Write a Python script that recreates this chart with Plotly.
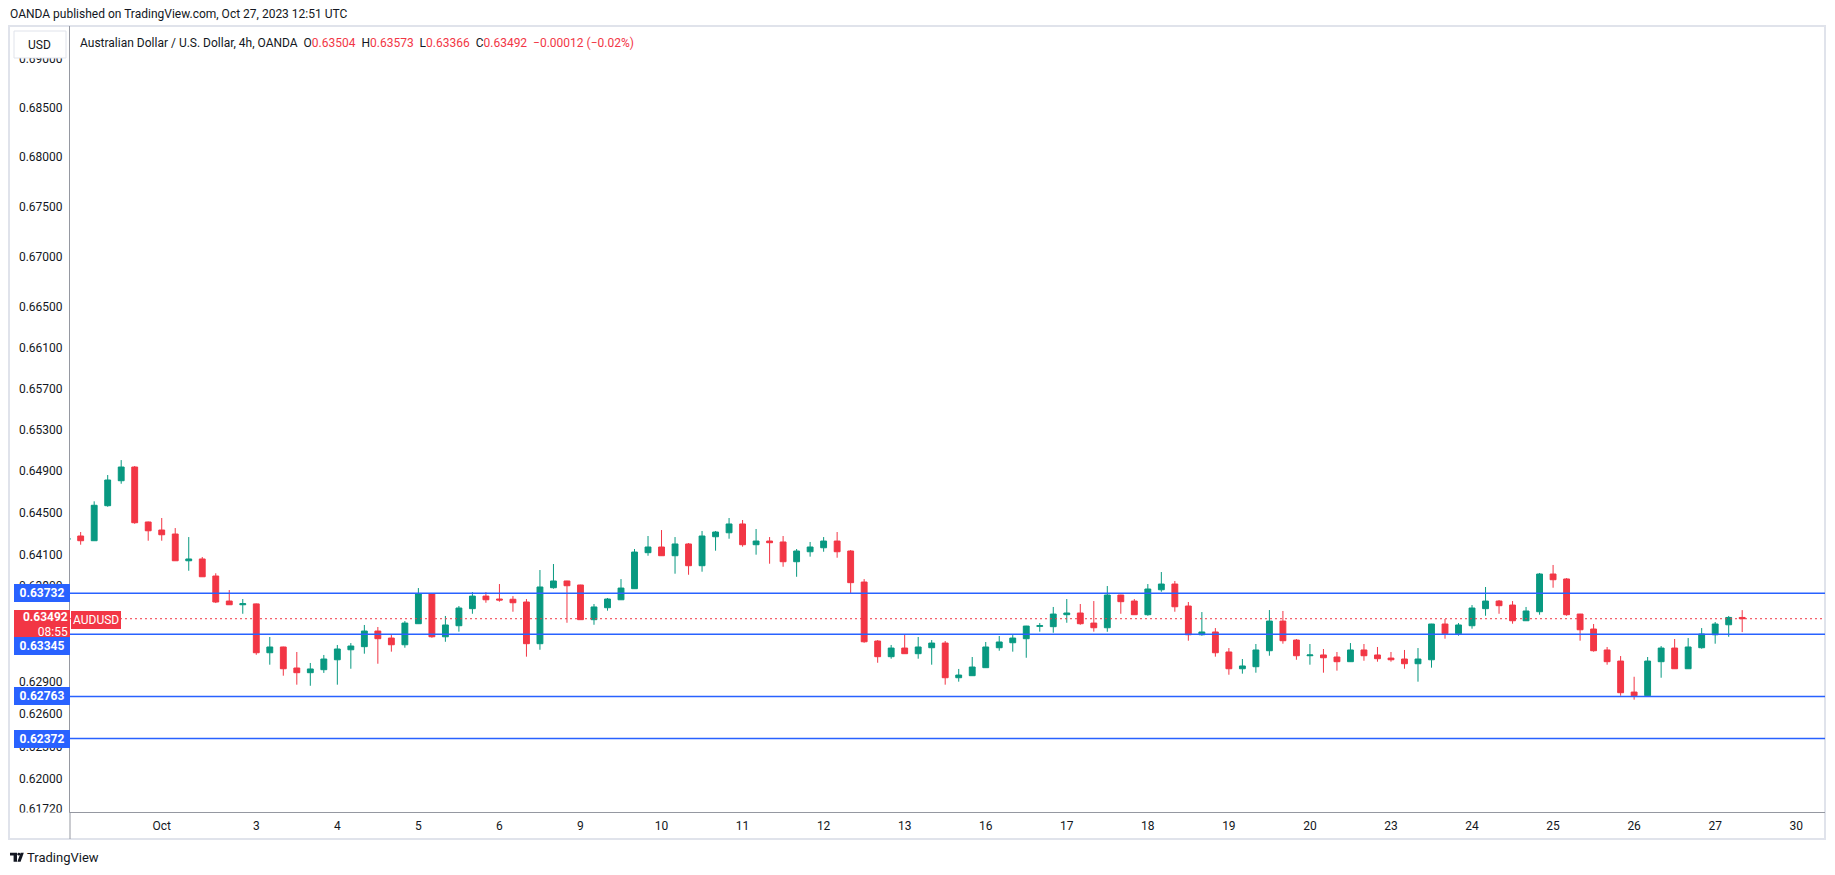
"""AUD/USD 4h candles (OANDA) with horizontal levels, TradingView-style snapshot."""
import numpy as np
import pandas as pd
import plotly.graph_objects as go

# 4h bars from Sep 28 17:00 UTC to Oct 27 09:00 UTC (last bar still forming)
OPEN = [0.64243, 0.64277, 0.64232, 0.64567, 0.64807, 0.64939, 0.64411, 0.64334, 0.64296, 0.64041,
        0.64058, 0.63896, 0.63659, 0.63624, 0.63632, 0.63172, 0.63226, 0.63029, 0.62985, 0.63013,
        0.63106, 0.63200, 0.63229, 0.63376, 0.63310, 0.63247, 0.63445, 0.63728, 0.63322, 0.63426,
        0.63587, 0.63706, 0.63678, 0.63676, 0.63650, 0.63257, 0.63785, 0.63849, 0.63811, 0.63483,
        0.63596, 0.63671, 0.63776, 0.64118, 0.64172, 0.64089, 0.64201, 0.63994, 0.64270, 0.64308,
        0.64392, 0.64194, 0.64229, 0.64220, 0.64032, 0.64127, 0.64165, 0.64229, 0.64134, 0.63839,
        0.63282, 0.63135, 0.63216, 0.63163, 0.63219, 0.63263, 0.62938, 0.62957, 0.63032, 0.63219,
        0.63266, 0.63304, 0.63420, 0.63417, 0.63530, 0.63546, 0.63451, 0.63407, 0.63716, 0.63659,
        0.63530, 0.63766, 0.63820, 0.63612, 0.63341, 0.63367, 0.63179, 0.63022, 0.63041, 0.63191,
        0.63470, 0.63291, 0.63144, 0.63151, 0.63132, 0.63088, 0.63198, 0.63151, 0.63122, 0.63113,
        0.63069, 0.63106, 0.63442, 0.63351, 0.63426, 0.63587, 0.63659, 0.63621, 0.63473, 0.63558,
        0.63915, 0.63868, 0.63536, 0.63395, 0.63198, 0.63094, 0.62804, 0.62770, 0.63088, 0.63216,
        0.63022, 0.63219, 0.63341, 0.63435, 0.63504]
HIGH = [0.64267, 0.64315, 0.64609, 0.64862, 0.65006, 0.64949, 0.64415, 0.64449, 0.64353, 0.64267,
        0.64077, 0.63922, 0.63763, 0.63678, 0.63636, 0.63320, 0.63229, 0.63179, 0.63076, 0.63151,
        0.63245, 0.63263, 0.63433, 0.63414, 0.63338, 0.63470, 0.63782, 0.63731, 0.63518, 0.63612,
        0.63744, 0.63744, 0.63820, 0.63706, 0.63678, 0.63953, 0.64010, 0.63851, 0.63813, 0.63631,
        0.63688, 0.63867, 0.64153, 0.64277, 0.64334, 0.64267, 0.64210, 0.64325, 0.64325, 0.64449,
        0.64430, 0.64344, 0.64267, 0.64277, 0.64153, 0.64220, 0.64267, 0.64315, 0.64143, 0.63867,
        0.63291, 0.63245, 0.63348, 0.63320, 0.63291, 0.63282, 0.63020, 0.63132, 0.63273, 0.63329,
        0.63338, 0.63425, 0.63451, 0.63603, 0.63678, 0.63631, 0.63659, 0.63801, 0.63718, 0.63678,
        0.63820, 0.63934, 0.63849, 0.63650, 0.63555, 0.63404, 0.63216, 0.63113, 0.63254, 0.63574,
        0.63565, 0.63301, 0.63254, 0.63207, 0.63179, 0.63263, 0.63254, 0.63226, 0.63179, 0.63198,
        0.63216, 0.63444, 0.63489, 0.63451, 0.63621, 0.63792, 0.63669, 0.63659, 0.63603, 0.63925,
        0.64001, 0.63877, 0.63538, 0.63442, 0.63226, 0.63141, 0.62947, 0.63132, 0.63235, 0.63301,
        0.63310, 0.63404, 0.63461, 0.63518, 0.63573]
LOW = [0.64229, 0.64194, 0.64230, 0.64557, 0.64778, 0.64394, 0.64232, 0.64232, 0.64039, 0.63946,
       0.63887, 0.63640, 0.63622, 0.63539, 0.63153, 0.63060, 0.62957, 0.62873, 0.62863, 0.62983,
       0.62873, 0.63022, 0.63163, 0.63069, 0.63182, 0.63219, 0.63442, 0.63313, 0.63275, 0.63370,
       0.63539, 0.63643, 0.63653, 0.63558, 0.63135, 0.63200, 0.63776, 0.63454, 0.63480, 0.63435,
       0.63568, 0.63669, 0.63774, 0.64089, 0.64087, 0.63918, 0.63908, 0.63937, 0.64137, 0.64251,
       0.64175, 0.64099, 0.64013, 0.63984, 0.63889, 0.64080, 0.64127, 0.64070, 0.63735, 0.63266,
       0.63078, 0.63116, 0.63161, 0.63116, 0.63060, 0.62873, 0.62901, 0.62955, 0.63030, 0.63191,
       0.63182, 0.63125, 0.63370, 0.63360, 0.63454, 0.63435, 0.63370, 0.63369, 0.63539, 0.63528,
       0.63520, 0.63747, 0.63558, 0.63285, 0.63332, 0.63135, 0.62966, 0.62976, 0.62985, 0.63144,
       0.63257, 0.63106, 0.63060, 0.62985, 0.63004, 0.63086, 0.63097, 0.63088, 0.63088, 0.63022,
       0.62901, 0.63032, 0.63304, 0.63332, 0.63398, 0.63520, 0.63539, 0.63445, 0.63471, 0.63530,
       0.63785, 0.63520, 0.63285, 0.63182, 0.63060, 0.62770, 0.62733, 0.62768, 0.62938, 0.63020,
       0.63020, 0.63210, 0.63257, 0.63322, 0.63366]
CLOSE = [0.64255, 0.64232, 0.64571, 0.64814, 0.64939, 0.64404, 0.64327, 0.64289, 0.64041, 0.64058,
         0.63889, 0.63650, 0.63624, 0.63634, 0.63172, 0.63226, 0.63022, 0.62985, 0.63020, 0.63113,
         0.63207, 0.63235, 0.63376, 0.63304, 0.63247, 0.63451, 0.63728, 0.63322, 0.63433, 0.63593,
         0.63706, 0.63671, 0.63669, 0.63643, 0.63257, 0.63792, 0.63849, 0.63804, 0.63483, 0.63603,
         0.63678, 0.63782, 0.64124, 0.64172, 0.64089, 0.64201, 0.63994, 0.64277, 0.64315, 0.64392,
         0.64194, 0.64229, 0.64213, 0.64032, 0.64134, 0.64172, 0.64229, 0.64127, 0.63833, 0.63275,
         0.63135, 0.63216, 0.63163, 0.63226, 0.63263, 0.62938, 0.62963, 0.63038, 0.63226, 0.63273,
         0.63310, 0.63423, 0.63426, 0.63536, 0.63546, 0.63445, 0.63407, 0.63716, 0.63653, 0.63530,
         0.63773, 0.63820, 0.63605, 0.63341, 0.63367, 0.63172, 0.63022, 0.63048, 0.63198, 0.63470,
         0.63285, 0.63144, 0.63151, 0.63125, 0.63088, 0.63198, 0.63144, 0.63116, 0.63106, 0.63069,
         0.63113, 0.63442, 0.63351, 0.63433, 0.63593, 0.63659, 0.63615, 0.63473, 0.63565, 0.63915,
         0.63861, 0.63530, 0.63388, 0.63191, 0.63088, 0.62798, 0.62770, 0.63094, 0.63216, 0.63022,
         0.63226, 0.63348, 0.63442, 0.63504, 0.63492]

LEVELS = [0.63732, 0.63345, 0.62763, 0.62372]
Y_TICKS = [0.69, 0.685, 0.68, 0.675, 0.67, 0.665, 0.661, 0.657, 0.653, 0.649,
           0.645, 0.641, 0.638, 0.629, 0.626, 0.623, 0.62, 0.6172]
TICK_DATES = ["2023-10-01", "2023-10-03", "2023-10-04", "2023-10-05", "2023-10-06", "2023-10-09",
              "2023-10-10", "2023-10-11", "2023-10-12", "2023-10-13", "2023-10-16", "2023-10-17",
              "2023-10-18", "2023-10-19", "2023-10-20", "2023-10-23", "2023-10-24", "2023-10-25",
              "2023-10-26", "2023-10-27", "2023-10-30"]
TICK_TEXT = ["Oct", "3", "4", "5", "6", "9", "10", "11", "12", "13", "16", "17",
             "18", "19", "20", "23", "24", "25", "26", "27", "30"]
COUNTDOWN = "08:55"

FONT = "Roboto, Arial, sans-serif"
INK = "#131722"
GREEN = "#089981"
RED = "#F23645"
BLUE = "#2962FF"
AXIS = "#9598a1"
FRAME = "#e0e3eb"

# the page body keeps its default 8px margin, so the figure is drawn 8px in from the corner
OFF = 8
W, H = 1835 - OFF, 875 - OFF
L, R, T, B = 70 - OFF, 10, 26 - OFF, 63
PW, PH = W - L - R, H - T - B


# screen pixel -> paper fraction
def px(x):
    return (x - OFF - L) / PW


def py(y):
    return (H - B - (y - OFF)) / PH


# bar timeline: 4h bars, market shut from Fri 21:00 to Sun 21:00 UTC
times = pd.date_range("2023-09-28 17:00", "2023-10-30 05:00", freq="4h")
wd, hr = times.dayofweek, times.hour
times = times[~(((wd == 4) & (hr >= 21)) | (wd == 5) | ((wd == 6) & (hr < 21)))]
bar_x = np.arange(len(OPEN))
day = times.normalize()
tick_pos = [int(np.argmax(day == pd.Timestamp(d))) for d in TICK_DATES]

x_range = [0.21, 130.13]
ylo, yhi = np.log10(0.61695), np.log10(0.69336)


def pfrac(p):
    return (np.log10(p) - ylo) / (yhi - ylo)


fig = go.Figure()

for lvl in LEVELS:
    fig.add_trace(go.Scatter(x=x_range, y=[lvl, lvl], mode="lines",
                             line=dict(color=BLUE, width=1.5), hoverinfo="skip"))

last = CLOSE[-1]
fig.add_trace(go.Scatter(x=x_range, y=[last, last], mode="lines",
                         line=dict(color=RED, width=1, dash="2px,3px"), hoverinfo="skip"))

fig.add_trace(go.Candlestick(
    x=bar_x, open=OPEN, high=HIGH, low=LOW, close=CLOSE,
    increasing=dict(line=dict(color=GREEN, width=1), fillcolor=GREEN),
    decreasing=dict(line=dict(color=RED, width=1), fillcolor=RED),
    whiskerwidth=0,
    text=[t.strftime("%b %d %H:%M") for t in times[:len(OPEN)]],
    name="AUDUSD",
))

fig.update_layout(
    width=W, height=H,
    margin=dict(l=L, r=R, t=T, b=B),
    paper_bgcolor="white", plot_bgcolor="white",
    showlegend=False, boxgap=0.38,
    font=dict(family=FONT, size=12, color=INK),
    xaxis=dict(range=x_range, rangeslider=dict(visible=False), showgrid=False, zeroline=False,
               showline=True, linecolor=AXIS, linewidth=1, tickmode="array",
               tickvals=tick_pos, ticktext=TICK_TEXT, ticks="", ticklabelstandoff=3,
               tickfont=dict(size=12, color=INK)),
    yaxis=dict(type="log", range=[ylo, yhi], showgrid=False, zeroline=False,
               showline=True, linecolor=AXIS, linewidth=1, tickmode="array",
               tickvals=Y_TICKS, ticktext=[f"{v:.5f}" for v in Y_TICKS], ticks="",
               ticklabelstandoff=4, tickfont=dict(size=12, color=INK)),
)

# frame, axis extension, cover under the lowest tick label
fig.add_shape(type="rect", xref="paper", yref="paper", x0=px(9), x1=px(1825), y0=py(839), y1=py(26),
              line=dict(color=FRAME, width=2), layer="below")
fig.add_shape(type="rect", xref="paper", yref="paper", x0=px(11), x1=px(69.4), y0=py(838), y1=py(812.6),
              line=dict(width=0), fillcolor="white", layer="above")
fig.add_shape(type="line", xref="paper", yref="paper", x0=0, x1=0, y0=py(839), y1=0,
              line=dict(color=AXIS, width=1), layer="above")
# USD unit box
fig.add_shape(type="rect", xref="paper", yref="paper", x0=px(14), x1=px(66), y0=py(58), y1=py(31),
              line=dict(color=FRAME, width=1), fillcolor="white", layer="above")
fig.add_annotation(xref="paper", yref="paper", x=px(40), y=py(44.5), text="USD", showarrow=False,
                   font=dict(size=12, color=INK), xanchor="center", yanchor="middle")

# header lines
fig.add_annotation(xref="paper", yref="paper", x=px(8), y=py(14),
                   text="OANDA published on TradingView.com, Oct 27, 2023 12:51 UTC",
                   showarrow=False, xanchor="left", yanchor="middle", font=dict(size=12, color=INK))

prev = CLOSE[-2]
chg = last - prev
chg_txt = f"{chg:+.5f} ({chg / prev * 100:+.2f}%)".replace("-", "\u2212")
sp = "\u00a0\u00a0"
red = lambda s: f"<span style='color:{RED}'>{s}</span>"
title = ("Australian Dollar / U.S. Dollar, 4h, OANDA" + sp
         + "O" + red(f"{OPEN[-1]:.5f}") + sp + "H" + red(f"{HIGH[-1]:.5f}") + sp
         + "L" + red(f"{LOW[-1]:.5f}") + sp + "C" + red(f"{last:.5f}") + sp + red(chg_txt))
fig.add_annotation(xref="paper", yref="paper", x=px(78), y=py(43), text=title, showarrow=False,
                   xanchor="left", yanchor="middle", font=dict(size=12, color=INK))


def axis_tag(price, text, color, shift=0, height=14, align="center"):
    fig.add_annotation(xref="paper", yref="paper", x=px(70), y=pfrac(price), yshift=shift,
                       text=text, showarrow=False, xanchor="right", yanchor="middle",
                       bgcolor=color, bordercolor=color, borderwidth=1, borderpad=1,
                       width=52, height=height, align=align,
                       font=dict(size=12, color="white"))


axis_tag(LEVELS[0], f"<b>{LEVELS[0]:.5f}</b>", BLUE)
axis_tag(last, f"<b>{last:.5f}</b><br>{COUNTDOWN}", RED, shift=-6, height=25, align="right")
axis_tag(LEVELS[1], f"<b>{LEVELS[1]:.5f}</b>", BLUE, shift=-12)
axis_tag(LEVELS[2], f"<b>{LEVELS[2]:.5f}</b>", BLUE)
axis_tag(LEVELS[3], f"<b>{LEVELS[3]:.5f}</b>", BLUE)

fig.add_annotation(xref="paper", yref="paper", x=px(71), y=pfrac(last), yshift=-1.5, text="AUDUSD",
                   showarrow=False, xanchor="left", yanchor="middle", bgcolor=RED, bordercolor=RED,
                   borderwidth=1, borderpad=1, font=dict(size=12, color="white"))


# footer logo + wordmark
def path(points):
    return "M " + " L ".join(f"{px(x):.5f},{py(y):.5f}" for x, y in points) + " Z"


fig.add_shape(type="path", xref="paper", yref="paper", layer="above", line=dict(width=0), fillcolor=INK,
              path=path([(10, 852.7), (17, 852.7), (17, 861.7), (13.6, 861.7), (13.6, 855.6), (10, 855.6)]))
fig.add_shape(type="circle", xref="paper", yref="paper", layer="above", line=dict(width=0), fillcolor=INK,
              x0=px(17.4), x1=px(20.2), y0=py(855.6), y1=py(852.8))
fig.add_shape(type="path", xref="paper", yref="paper", layer="above", line=dict(width=0), fillcolor=INK,
              path=path([(20.6, 852.7), (23.8, 852.7), (20.6, 861.7), (17.4, 861.7)]))
fig.add_annotation(xref="paper", yref="paper", x=px(25), y=py(858), text="TradingView", showarrow=False,
                   xanchor="left", yanchor="middle", font=dict(size=13, color=INK))

fig.write_html("out.html")
